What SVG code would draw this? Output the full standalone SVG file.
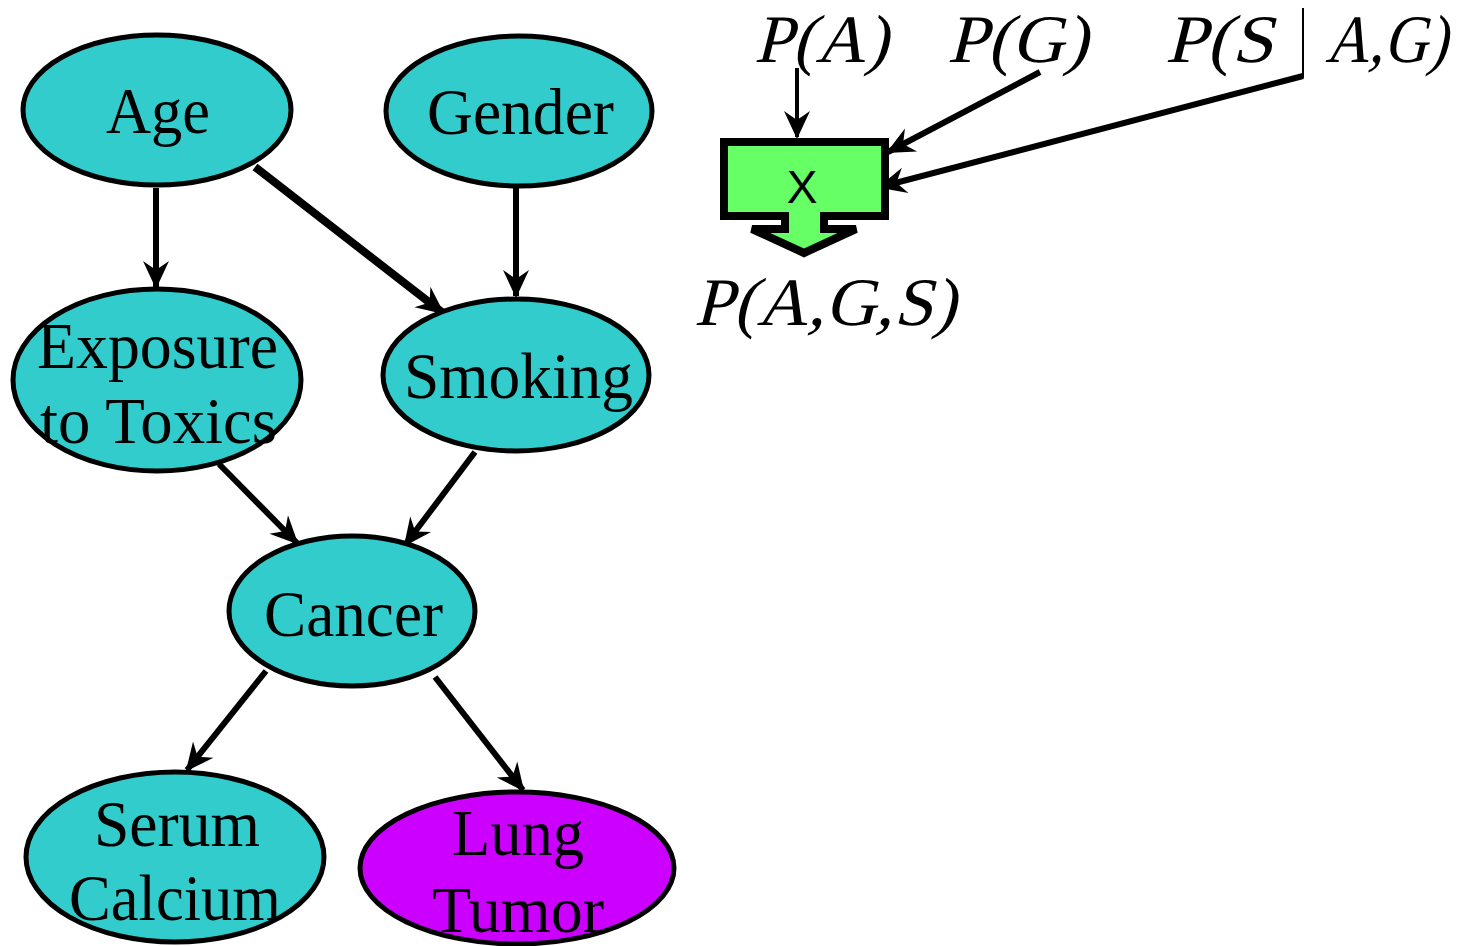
<svg xmlns="http://www.w3.org/2000/svg" width="1477" height="946" viewBox="0 0 1477 946">
  <style>
    .node { fill: #33CCCC; stroke: #000; stroke-width: 5; }
    .leaf { fill: #CC00FF; stroke: #000; stroke-width: 5; }
    .lbl { font-family: "Liberation Serif", "Times New Roman", serif; font-size: 65px; fill: #000; }
    .math { font-family: "Liberation Serif", "Times New Roman", serif; font-size: 68px; fill: #000; }
    .edge { stroke: #000; stroke-width: 6; fill: none; marker-end: url(#arrow); }
    .bold { stroke-width: 8; }
    .thin { stroke: #000; stroke-width: 4; fill: none; marker-end: url(#arrow); }
  </style>
  <defs>
    <marker id="arrow" markerUnits="userSpaceOnUse" markerWidth="34" markerHeight="34" viewBox="-30 -15 34 30" refX="0" refY="0" orient="auto">
      <path d="M2,0 L-26,-13 L-17,0 L-26,13 Z" fill="#000"/>
    </marker>
  </defs>
  <rect width="1477" height="946" fill="#fff"/>

  <!-- connectors -->
  <g id="connectors">
    <line class="edge" x1="156" y1="188" x2="156" y2="287"/>
    <line class="edge bold" x1="255" y1="167" x2="443" y2="313"/>
    <line class="edge" x1="516" y1="188" x2="516" y2="296"/>
    <line class="edge" x1="219" y1="464" x2="297" y2="543"/>
    <line class="edge" x1="475" y1="452" x2="405" y2="545"/>
    <line class="edge" x1="266" y1="671" x2="187" y2="770"/>
    <line class="edge" x1="435" y1="677" x2="523" y2="790"/>
    <line class="thin" x1="797" y1="68" x2="797" y2="137"/>
    <line class="edge" x1="1040" y1="72" x2="888" y2="152"/>
    <line class="edge" x1="1303" y1="76" x2="880" y2="187"/>
  </g>

  <!-- network nodes -->
  <g id="age">
    <ellipse class="node" cx="157" cy="110" rx="134" ry="75"/>
    <text class="lbl" x="106" y="133" textLength="104" lengthAdjust="spacingAndGlyphs">Age</text>
  </g>
  <g id="gender">
    <ellipse class="node" cx="519" cy="111" rx="133" ry="75"/>
    <text class="lbl" x="427" y="134" textLength="187" lengthAdjust="spacingAndGlyphs">Gender</text>
  </g>
  <g id="exposure">
    <ellipse class="node" cx="157" cy="380" rx="144" ry="91"/>
    <text class="lbl" x="37" y="368" textLength="241" lengthAdjust="spacingAndGlyphs">Exposure</text>
    <text class="lbl" x="40" y="443" textLength="237" lengthAdjust="spacingAndGlyphs">to Toxics</text>
  </g>
  <g id="smoking">
    <ellipse class="node" cx="516" cy="375" rx="133" ry="76"/>
    <text class="lbl" x="404" y="398" textLength="229" lengthAdjust="spacingAndGlyphs">Smoking</text>
  </g>
  <g id="cancer">
    <ellipse class="node" cx="352" cy="611" rx="123" ry="75"/>
    <text class="lbl" x="264" y="636" textLength="179" lengthAdjust="spacingAndGlyphs">Cancer</text>
  </g>
  <g id="serum-calcium">
    <ellipse class="node" cx="175" cy="857" rx="149" ry="85"/>
    <text class="lbl" x="94" y="846" textLength="166" lengthAdjust="spacingAndGlyphs">Serum</text>
    <text class="lbl" x="69" y="920" textLength="212" lengthAdjust="spacingAndGlyphs">Calcium</text>
  </g>
  <g id="lung-tumor">
    <ellipse class="leaf" cx="517" cy="868" rx="157" ry="76"/>
    <text class="lbl" x="452" y="855" textLength="132" lengthAdjust="spacingAndGlyphs">Lung</text>
    <text class="lbl" x="432" y="932" textLength="172" lengthAdjust="spacingAndGlyphs">Tumor</text>
  </g>

  <!-- factor product block -->
  <g id="product">
    <path d="M724,142 H885 V216 H824 V229 H856 L804,253 L752,229 H785 V216 H724 Z" fill="#66FF66" stroke="#000" stroke-width="8" stroke-linejoin="miter"/>
    <text x="802" y="203" font-family="Liberation Sans, Arial, sans-serif" font-size="46" text-anchor="middle" fill="#000">X</text>
  </g>

  <!-- probability terms, slanted serif -->
  <g id="terms">
    <text class="math" transform="translate(754,62) skewX(-14)" textLength="134" lengthAdjust="spacingAndGlyphs">P(A)</text>
    <text class="math" transform="translate(947,62) skewX(-14)" textLength="141" lengthAdjust="spacingAndGlyphs">P(G)</text>
    <text class="math" transform="translate(1165,62) skewX(-14)" textLength="108" lengthAdjust="spacingAndGlyphs">P(S</text>
    <line x1="1303" y1="8" x2="1303" y2="78" stroke="#000" stroke-width="2"/>
    <text class="math" transform="translate(1325,62) skewX(-14)" textLength="122" lengthAdjust="spacingAndGlyphs">A,G)</text>
    <text class="math" transform="translate(694,325) skewX(-14)" textLength="262" lengthAdjust="spacingAndGlyphs">P(A,G,S)</text>
  </g>
</svg>
